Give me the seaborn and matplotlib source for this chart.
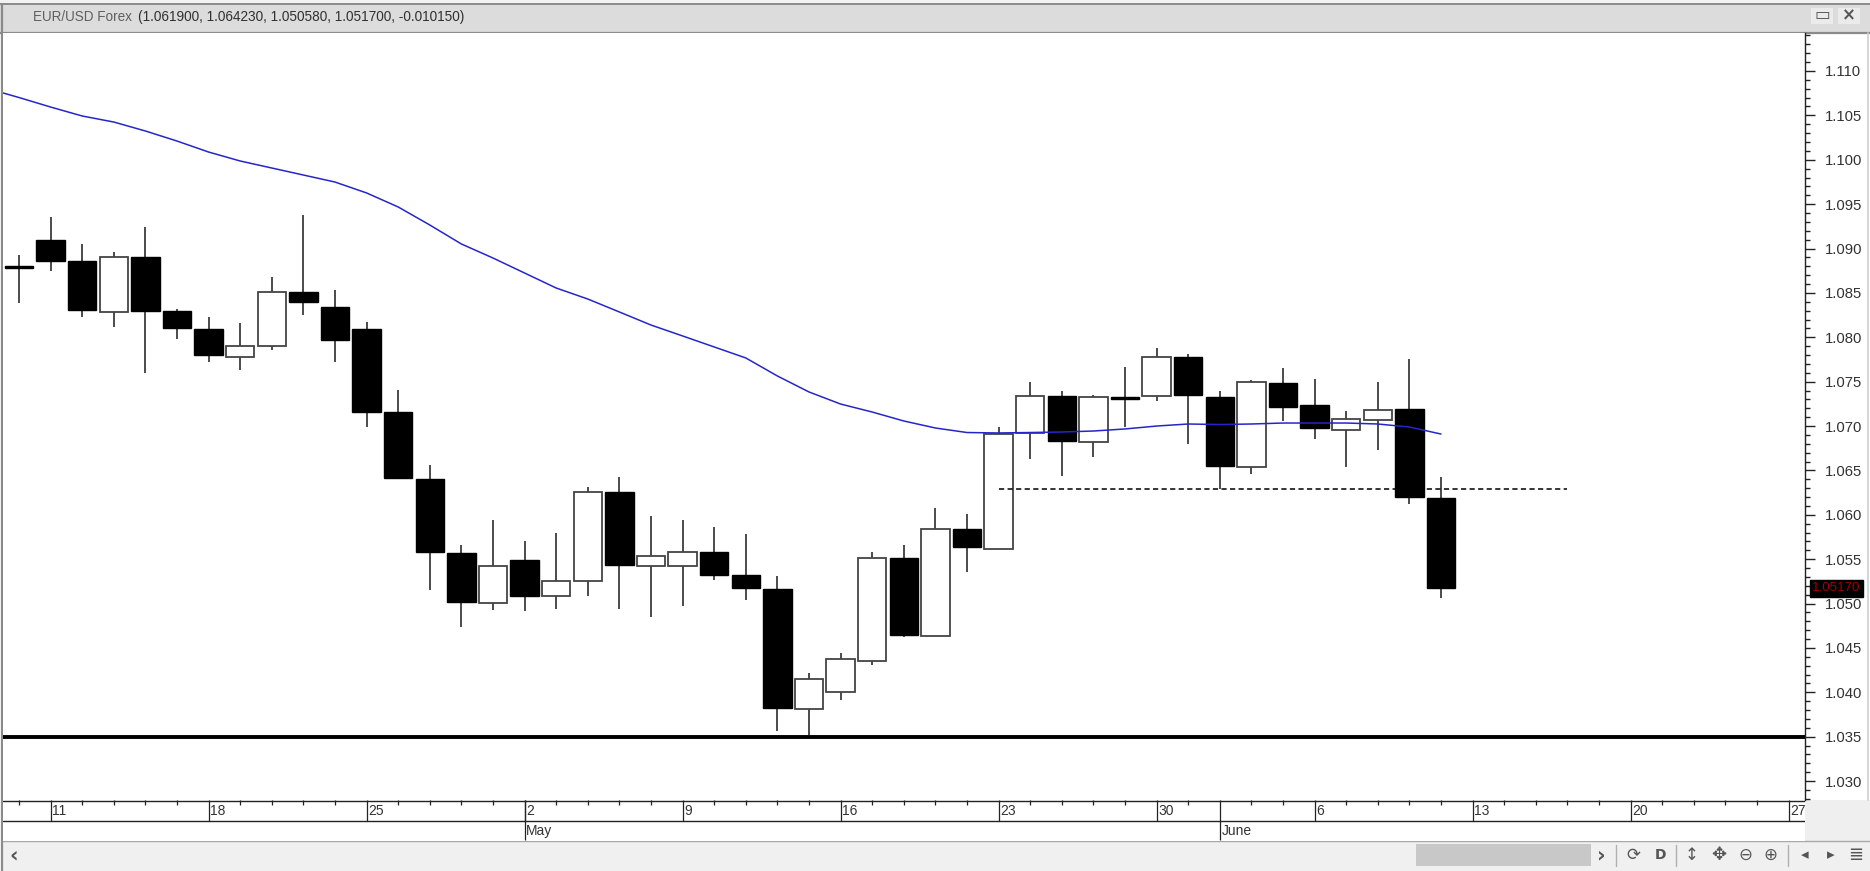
import matplotlib
matplotlib.use("Agg")
import matplotlib.pyplot as plt
from matplotlib.patches import Rectangle
from matplotlib.ticker import MultipleLocator, FormatStrFormatter
import numpy as np
import pandas as pd
import seaborn as sns

# ---------- data ----------
opens = [1.0880, 1.09092, 1.08856, 1.08285, 1.08908, 1.08293, 1.08094, 1.07778, 1.07906, 1.08514,
         1.08345, 1.08094, 1.07155, 1.06407, 1.05574, 1.05003, 1.05487, 1.05089, 1.05258, 1.06261,
         1.05427, 1.05427, 1.05585, 1.05318, 1.05165, 1.03809, 1.04008, 1.04357, 1.05517, 1.04639,
         1.0584, 1.05611, 1.06925, 1.07342, 1.0682, 1.07331, 1.07342, 1.07782, 1.07331, 1.06539,
         1.07489, 1.07233, 1.06959, 1.07072, 1.07192, 1.0619]
closes = [1.0878, 1.08859, 1.08311, 1.08905, 1.08296, 1.08101, 1.07801, 1.07906, 1.08514, 1.08394,
          1.07974, 1.07159, 1.06411, 1.05578, 1.05014, 1.05427, 1.05089, 1.05258, 1.06261, 1.05435,
          1.0554, 1.05585, 1.05322, 1.05172, 1.0382, 1.04147, 1.04372, 1.05514, 1.04646, 1.05837,
          1.05634, 1.0691, 1.07342, 1.06832, 1.07331, 1.07309, 1.07782, 1.0735, 1.0655, 1.0750,
          1.07211, 1.06974, 1.07076, 1.07177, 1.06201, 1.0517]
highs = [1.08927, 1.09351, 1.09051, 1.08957, 1.09246, 1.08319, 1.08232, 1.08165, 1.08683, 1.09378,
         1.08533, 1.08176, 1.07403, 1.06561, 1.0566, 1.05942, 1.05701, 1.05799, 1.06317, 1.0643,
         1.05987, 1.05942, 1.05867, 1.05784, 1.05307, 1.04222, 1.04447, 1.05578, 1.05656, 1.06081,
         1.06009, 1.06993, 1.0750, 1.07399, 1.07346, 1.07669, 1.07883, 1.07812, 1.07399, 1.07515,
         1.07658, 1.0753, 1.07166, 1.0750, 1.07755, 1.06423]
lows = [1.08383, 1.08747, 1.08225, 1.08112, 1.07594, 1.07985, 1.07718, 1.07632, 1.07861, 1.08252,
        1.07718, 1.06986, 1.0640, 1.05153, 1.04733, 1.04928, 1.04917, 1.04943, 1.05086, 1.04939,
        1.04845, 1.04973, 1.05266, 1.05041, 1.03565, 1.0352, 1.03914, 1.04308, 1.0462, 1.04639,
        1.05352, 1.05611, 1.06633, 1.06437, 1.06648, 1.06986, 1.07282, 1.06802, 1.06295, 1.06464,
        1.07053, 1.06858, 1.06535, 1.0673, 1.06126, 1.05058]
ma_index = [-0.5] + list(range(46))
ma_values = [1.10752, 1.10701, 1.10594, 1.10493, 1.10425, 1.10324, 1.10211, 1.10087, 1.09986, 1.09907,
             1.09828, 1.09749, 1.09626, 1.09468, 1.09265, 1.09051, 1.08893, 1.08724, 1.08555, 1.08431,
             1.08285, 1.08138, 1.08015, 1.07891, 1.07767, 1.07564, 1.07384, 1.07248, 1.07158, 1.07057,
             1.06978, 1.06927, 1.06922, 1.06927, 1.06933, 1.06944, 1.06967, 1.0700, 1.07023, 1.07017,
             1.07023, 1.07034, 1.07034, 1.07034, 1.07023, 1.06989, 1.0691]
support_level = 1.035
dashed_level = 1.06287
dashed_span = [31, 49]
last_price = 1.0517
day_positions = [1, 6, 11, 16, 21, 26, 31, 36, 41, 46, 51, 56]
day_labels = ["11", "18", "25", "2", "9", "16", "23", "30", "6", "13", "20", "27"]
month_positions = [16, 38]
month_labels = ["May", "June"]
title_name = "EUR/USD Forex"
title_values = "(1.061900, 1.064230, 1.050580, 1.051700, -0.010150)"

W, H = 1870, 871
SANS = ["Liberation Sans", "DejaVu Sans"]

sns.set_theme(style="white")
plt.rcParams["font.family"] = SANS

fig = plt.figure(figsize=(W / 100, H / 100), dpi=100, facecolor="white")


def px_axes(x0, y0, x1, y1, **kw):
    return fig.add_axes([x0 / W, 1 - y1 / H, (x1 - x0) / W, (y1 - y0) / H], **kw)


# ---------- window chrome (pixel coordinates) ----------
chrome = px_axes(0, 0, W, H, zorder=0)
chrome.set_xlim(0, W)
chrome.set_ylim(H, 0)
chrome.axis("off")
GREY = "#8a8a8a"


def box(x0, y0, x1, y1, fc, ec="none", lw=0):
    chrome.add_patch(Rectangle((x0, y0), x1 - x0, y1 - y0, fc=fc, ec=ec, lw=lw))


box(0, 0, W, 4, "#f2f2f2")
box(0, 4, W, 33, "#dcdcdc")
chrome.plot([0, W], [4.5, 4.5], color=GREY, lw=1.4)
chrome.plot([0, W], [33, 33], color=GREY, lw=1.6)
chrome.plot([2, 2], [4, 871], color=GREY, lw=1.6)
chrome.plot([1868, 1868], [33, 800], color="#d0d0d0", lw=1.2)
box(1805, 800, W, 841, "#efefef")
box(3, 841, W, 871, "#f0f0f0")
chrome.plot([3, W], [840.5, 840.5], color="#a8a8a8", lw=1)
chrome.text(33, 17, title_name, fontsize=9.75, color="#606060", va="center", ha="left")
chrome.text(138, 17, title_values, fontsize=9.8, color="#303030", va="center", ha="left")
for cx, glyph in [(1822, "▭"), (1849, "×")]:
    box(cx - 11, 8, cx + 11, 24, "#ebebeb")
    chrome.text(cx, 15.5, glyph, fontsize=12, color="#555555", ha="center", va="center",
                family=["DejaVu Sans"], weight="bold")
box(1416, 844, 1591, 866, "#c8c8c8")
for sx in [1616, 1676, 1788]:
    chrome.plot([sx, sx], [845, 866], color="#b0b0b0", lw=1)
for gx, glyph, fs in [(14, "‹", 15), (1601, "›", 15), (1633, "⟳", 12), (1660, "D", 10), (1692, "↕", 12),
                      (1719, "✥", 13), (1745, "⊖", 12), (1770, "⊕", 12), (1805, "◂", 11),
                      (1831, "▸", 11), (1856, "≣", 13)]:
    chrome.text(gx, 855, glyph, fontsize=fs, color="#555555", ha="center", va="center",
                family=["DejaVu Sans"], weight="bold" if glyph in "‹›D" else "normal")

# ---------- main price panel ----------
ax = px_axes(3, 33, 1805, 800, zorder=2)
ax.set_facecolor("white")
x_limits = (-0.506, 56.52)
df = pd.DataFrame({"open": opens, "high": highs, "low": lows, "close": closes})
df["idx"] = np.arange(len(df))
df["top"] = df[["open", "close"]].max(axis=1)
df["bottom"] = df[["open", "close"]].min(axis=1)
df["up"] = df["close"] >= df["open"]

ax.vlines(df["idx"], df["low"], df["high"], color="#1a1a1a", lw=1.1, zorder=2)
for up, part in df.groupby("up"):
    ax.bar(part["idx"], part["top"] - part["bottom"], bottom=part["bottom"], width=0.9,
           color="white" if up else "black", edgecolor="#444444" if up else "black",
           linewidth=1.3 if up else 1.0, zorder=3)

ma_df = pd.DataFrame({"idx": ma_index, "ma": ma_values})
sns.lineplot(data=ma_df, x="idx", y="ma", ax=ax, color="#2626c8", lw=1.1, zorder=5, legend=False)
ax.axhline(support_level, color="black", lw=2.8, zorder=4)
ax.plot(dashed_span, [dashed_level, dashed_level], color="black", lw=1.1,
        linestyle=(0, (3.4, 2.2)), zorder=4)

ax.set_xlim(*x_limits)
ax.set_ylim(1.02787, 1.11428)
ax.set_xlabel("")
ax.set_ylabel("")
ax.set_xticks([])
ax.yaxis.tick_right()
ax.yaxis.set_major_locator(MultipleLocator(0.005))
ax.yaxis.set_minor_locator(MultipleLocator(0.001))
ax.yaxis.set_major_formatter(FormatStrFormatter("%.3f"))
ax.tick_params(axis="y", which="major", direction="out", length=7.2, width=1.0, pad=7.2,
               labelsize=10.7, labelcolor="#333333", color="#222222", right=True)
ax.tick_params(axis="y", which="minor", direction="out", length=3.6, width=1.0, color="#222222", right=True)
for side, spine in ax.spines.items():
    spine.set_visible(side == "right")
ax.spines["right"].set_color("#222222")
ax.spines["right"].set_linewidth(1.0)

ax.annotate(f"{last_price:.5f}", xy=(1.0175, last_price), xycoords=ax.get_yaxis_transform(),
            ha="center", va="center", fontsize=9.6, color="#a00000", annotation_clip=False, zorder=10,
            bbox=dict(boxstyle="square,pad=0.18", fc="black", ec="black"))

# ---------- date panel ----------
dax = px_axes(3, 800, 1805, 841, zorder=1)
dax.set_xlim(*x_limits)
dax.set_ylim(41, 0)
dax.axis("off")
dax.add_patch(Rectangle((0, 0), 1, 1, transform=dax.transAxes, fc="white", ec="none", zorder=0))
dax.axhline(0.5, color="#222222", lw=1.0)
dax.axhline(20.7, color="#222222", lw=1.0)
minor_days = [i for i in range(57) if i not in day_positions and i not in month_positions]
dax.vlines(minor_days, 0, 5, color="#222222", lw=0.9)
dax.vlines(day_positions, 0, 20.7, color="#222222", lw=0.9)
dax.vlines(month_positions, 0, 40, color="#222222", lw=0.9)
for pos, lab in zip(day_positions, day_labels):
    dax.text(pos + 0.05, 11, lab, fontsize=10, color="#333333", va="center", ha="left", clip_on=True)
for pos, lab in zip(month_positions, month_labels):
    dax.text(pos + 0.05, 31, lab, fontsize=10, color="#333333", va="center", ha="left", clip_on=True)

fig.savefig("out.png", dpi=100, facecolor="white")
